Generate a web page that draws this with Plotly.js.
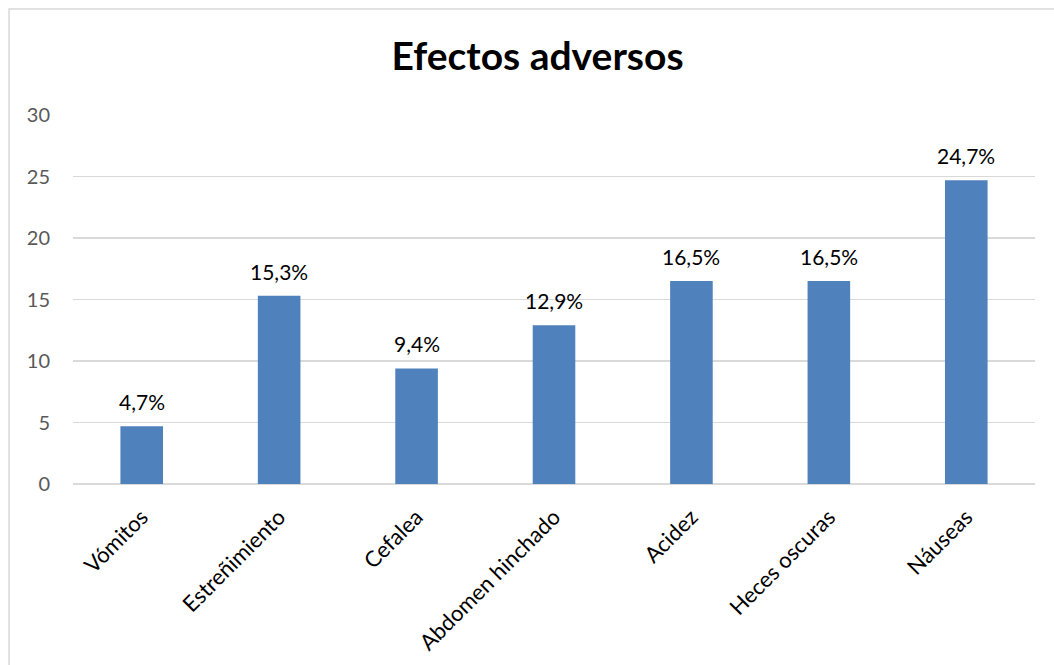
<!DOCTYPE html>
<html>
<head>
<meta charset="utf-8">
<script src="https://cdn.plot.ly/plotly-3.0.1.min.js"></script>
<style>html,body{margin:0;padding:0;background:#fff;}#chart{width:1054px;height:665px;}</style>
</head>
<body>
<div id="chart"></div>
<script>
const categories = ["Vómitos", "Estreñimiento", "Cefalea", "Abdomen hinchado", "Acidez", "Heces oscuras", "Náuseas"];
const values = [4.7, 15.3, 9.4, 12.9, 16.5, 16.5, 24.7];
const valueLabels = ["4,7%", "15,3%", "9,4%", "12,9%", "16,5%", "16,5%", "24,7%"];
const yTicks = [0, 5, 10, 15, 20, 25, 30];

const FONT = "Lato, 'Open Sans', sans-serif";

const trace = {
  type: "bar",
  x: categories,
  y: values,
  marker: {color: "#4f81bd"},
  width: 0.31,
  hoverinfo: "none"
};

const annotations = categories.map((c, i) => ({
  x: c, y: values[i], xref: "x", yref: "y",
  text: valueLabels[i],
  showarrow: false,
  yanchor: "bottom",
  yshift: 10,
  font: {family: FONT, size: 21, color: "#000000"}
}));

const layout = {
  width: 1054,
  height: 665,
  paper_bgcolor: "#ffffff",
  plot_bgcolor: "#ffffff",
  margin: {l: 73, r: 19, t: 115, b: 181},
  showlegend: false,
  title: {
    text: "<b>Efectos adversos</b>",
    font: {family: FONT, size: 39, color: "#000000"},
    x: 0.51, xanchor: "center",
    y: 0.915, yanchor: "middle"
  },
  xaxis: {
    type: "category",
    tickangle: -45,
    tickfont: {family: FONT, size: 22, color: "#000000"},
    showgrid: false,
    showline: false,
    zeroline: false,
    ticks: "",
    ticklabelstandoff: 15
  },
  yaxis: {
    range: [0, 30],
    tickvals: yTicks,
    ticktext: yTicks.map(String),
    tickfont: {family: FONT, size: 20, color: "#595959"},
    showgrid: true,
    gridcolor: "#d9d9d9",
    gridwidth: 1.5,
    zeroline: true,
    zerolinecolor: "#d9d9d9",
    zerolinewidth: 1.5,
    showline: false,
    ticks: "",
    ticklabelstandoff: 22
  },
  annotations: annotations,
  shapes: [{
    type: "rect", xref: "paper", yref: "paper",
    x0: -0.0665, x1: 1.1, y0: -0.6, y1: 1.287,
    line: {color: "#d9d9d9", width: 1.5},
    fillcolor: "rgba(0,0,0,0)", layer: "below"
  }]
};

Plotly.newPlot("chart", [trace], layout, {displayModeBar: false, staticPlot: true});
</script>
</body>
</html>
